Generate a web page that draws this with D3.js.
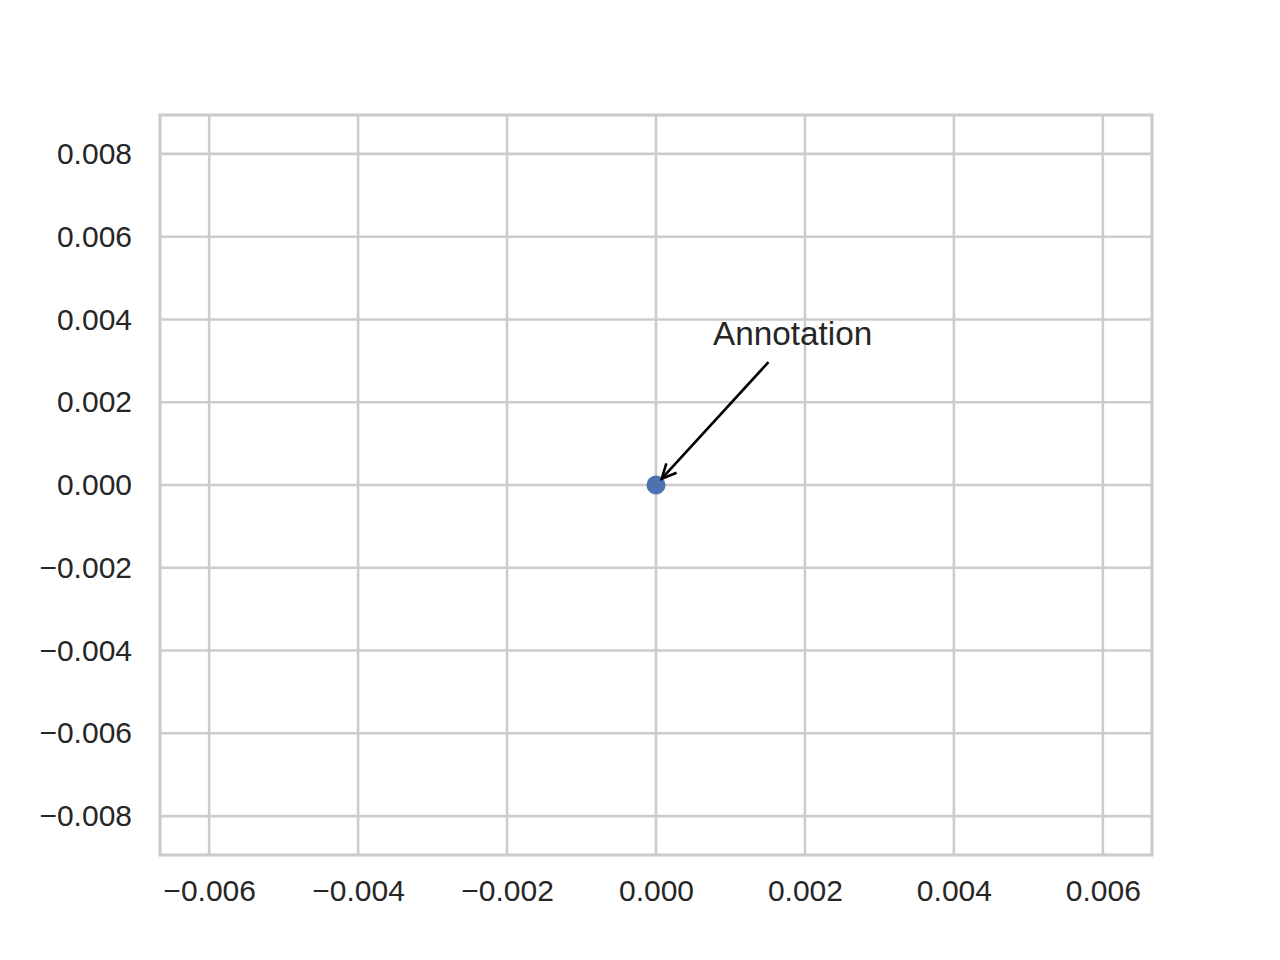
<!DOCTYPE html>
<html>
<head>
<meta charset="utf-8">
<script src="https://cdn.jsdelivr.net/npm/d3@7"></script>
<style>
  html, body { margin: 0; padding: 0; background: #fff; }
  svg { display: block; font-family: "Liberation Sans", Arial, sans-serif; }
</style>
</head>
<body>
<svg id="chart" width="1280" height="960"></svg>
<script>
// ---- data ----
const pointsX = [0.0];
const pointsY = [0.0];
const xTicks = [-0.006, -0.004, -0.002, 0.000, 0.002, 0.004, 0.006];
const yTicks = [-0.008, -0.006, -0.004, -0.002, 0.000, 0.002, 0.004, 0.006, 0.008];
const xDomain = [-0.00666, 0.00666];
const yDomain = [-0.00894, 0.00894];
const annotationText = ["Annotation"];
const annotationTarget = [0.0, 0.0];
const annotationTextPos = [0.000765, 0.00338]; // left-baseline of text in data units
const annotationArrowStart = [0.00151, 0.00297];

// ---- layout ----
const svg = d3.select("#chart");
const mLeft = 160, mRight = 1152, mTop = 115, mBottom = 855;
const x = d3.scaleLinear().domain(xDomain).range([mLeft, mRight]);
const y = d3.scaleLinear().domain(yDomain).range([mBottom, mTop]);
const fmt = v => d3.format(".3f")(v).replace("-", "\u2212");
const gridColor = "#cccccc";
const textColor = "#262626";

// grid
svg.append("g").selectAll("line").data(xTicks).join("line")
  .attr("x1", d => x(d)).attr("x2", d => x(d))
  .attr("y1", mTop).attr("y2", mBottom)
  .attr("stroke", gridColor).attr("stroke-width", 2.6);
svg.append("g").selectAll("line").data(yTicks).join("line")
  .attr("y1", d => y(d)).attr("y2", d => y(d))
  .attr("x1", mLeft).attr("x2", mRight)
  .attr("stroke", gridColor).attr("stroke-width", 2.6);

// spines
svg.append("rect").attr("x", mLeft).attr("y", mTop)
  .attr("width", mRight - mLeft).attr("height", mBottom - mTop)
  .attr("fill", "none").attr("stroke", gridColor).attr("stroke-width", 3.2);

// axes (labels only)
const xAxis = svg.append("g").attr("transform", `translate(0,${mBottom})`)
  .call(d3.axisBottom(x).tickValues(xTicks).tickFormat(fmt).tickSize(0).tickPadding(25));
const yAxis = svg.append("g").attr("transform", `translate(${mLeft},0)`)
  .call(d3.axisLeft(y).tickValues(yTicks).tickFormat(fmt).tickSize(0).tickPadding(28));
[xAxis, yAxis].forEach(g => {
  g.select(".domain").remove();
  g.selectAll("text").attr("fill", textColor)
    .style("font-family", '"Liberation Sans", Arial, sans-serif')
    .style("font-size", "30px");
});
xAxis.selectAll("text").attr("dy", "0.71em");

// point
svg.append("g").selectAll("circle").data(pointsX).join("circle")
  .attr("cx", (d, i) => x(d)).attr("cy", (d, i) => y(pointsY[i]))
  .attr("r", 9.5).attr("fill", "#4c72b0");

// annotation
svg.append("text")
  .attr("x", x(annotationTextPos[0])).attr("y", y(annotationTextPos[1]))
  .attr("fill", textColor)
  .style("font-size", "33.3px")
  .text(annotationText[0]);

const sx = x(annotationArrowStart[0]), sy = y(annotationArrowStart[1]);
const tx = x(annotationTarget[0]), ty = y(annotationTarget[1]);
const ang = Math.atan2(ty - sy, tx - sx);
const shrink = 8.5;
const ex = tx - shrink * Math.cos(ang), ey = ty - shrink * Math.sin(ang);
svg.append("line")
  .attr("x1", sx).attr("y1", sy).attr("x2", ex).attr("y2", ey)
  .attr("stroke", "#000").attr("stroke-width", 2.6);
const headLen = 16, headAng = Math.PI / 7;
const headPts = [
  [ex - headLen * Math.cos(ang - headAng), ey - headLen * Math.sin(ang - headAng)],
  [ex, ey],
  [ex - headLen * Math.cos(ang + headAng), ey - headLen * Math.sin(ang + headAng)]
];
svg.append("path")
  .attr("d", d3.line()(headPts))
  .attr("fill", "none").attr("stroke", "#000").attr("stroke-width", 2.6)
  .attr("stroke-linejoin", "miter");
</script>
</body>
</html>
